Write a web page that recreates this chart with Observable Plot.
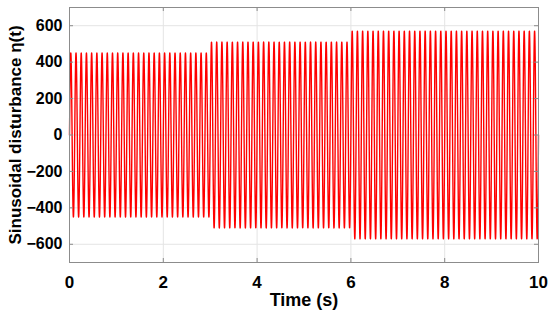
<!DOCTYPE html>
<html>
<head>
<meta charset="utf-8">
<script src="https://cdn.jsdelivr.net/npm/d3@7"></script>
<script src="https://cdn.jsdelivr.net/npm/@observablehq/plot@0.6"></script>
<style>
  html, body { margin: 0; padding: 0; background: #ffffff; }
</style>
</head>
<body>
<div id="chart"></div>
<script>
// Disturbance segments
const segStart = [0, 3, 6];
const segEnd = [3, 6, 10];
const amplitude = [450, 510, 570];
const frequencyHz = 9;           // about 9 cycles per second
const xTicks = [0, 2, 4, 6, 8, 10];
const yTicks = [-600, -400, -200, 0, 200, 400, 600];
const xLabel = "Time (s)";
const yLabel = "Sinusoidal disturbance η(t)";

// Build the sinusoid from the read segments
const dt = 0.0005;
const signal = [];
for (let i = 0; i <= Math.round(10 / dt); i++) {
  const t = i * dt;
  let k = segStart.findIndex((s, j) => t >= s && t <= segEnd[j]);
  if (k < 0) k = amplitude.length - 1;
  signal.push({t, v: amplitude[k] * Math.sin(2 * Math.PI * frequencyHz * t)});
}

const W = 550, H = 316;
const mL = 69, mR = 12, mT = 7, mB = 54;
const plotW = W - mL - mR, plotH = H - mT - mB;
const axisColor = "#8c8c8c";
const gridColor = "#e4e4e4";
const font = "'Liberation Sans', Arial, Helvetica, sans-serif";

const chart = Plot.plot({
  width: W,
  height: H,
  marginLeft: mL,
  marginRight: mR,
  marginTop: mT,
  marginBottom: mB,
  style: {fontFamily: font, fontWeight: "bold", fontSize: "16px", color: "#000", background: "#fff"},
  x: {domain: [0, 10]},
  y: {domain: [-700, 700]},
  marks: [
    Plot.gridX(xTicks, {stroke: gridColor, strokeOpacity: 1}),
    Plot.gridY(yTicks, {stroke: gridColor, strokeOpacity: 1}),
    Plot.line(signal, {x: "t", y: "v", stroke: "#ff0000", strokeWidth: 1.4}),
    Plot.frame({stroke: axisColor, strokeWidth: 1}),
    // inward ticks
    Plot.tickX(xTicks, {x: d => d, stroke: axisColor, insetTop: plotH - 4}),
    Plot.tickX(xTicks, {x: d => d, stroke: axisColor, insetBottom: plotH - 4}),
    Plot.tickY(yTicks, {y: d => d, stroke: axisColor, insetRight: plotW - 4}),
    Plot.tickY(yTicks, {y: d => d, stroke: axisColor, insetLeft: plotW - 4}),
    Plot.axisX(xTicks, {tickSize: 0, tickPadding: 13, fontSize: 17, fontWeight: "bold", label: null, tickFormat: d => String(d)}),
    Plot.axisY(yTicks, {tickSize: 0, tickPadding: 7, fontSize: 16, fontWeight: "bold", label: null, tickFormat: d => d < 0 ? "\u2212" + Math.abs(d) : String(d)}),
    Plot.text([xLabel], {text: d => d, frameAnchor: "bottom", dy: 38, lineAnchor: "middle", fontSize: 18, fontWeight: "bold", fill: "#000"}),
    Plot.text([yLabel], {text: d => d, frameAnchor: "left", dx: -54, rotate: -90, lineAnchor: "middle", textAnchor: "middle", fontSize: 17, fontWeight: "bold", fill: "#000"})
  ]
});
document.getElementById("chart").appendChild(chart);
</script>
</body>
</html>
